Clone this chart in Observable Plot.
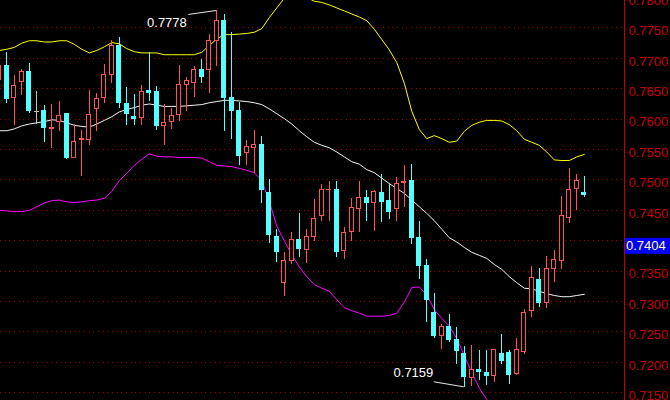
<!DOCTYPE html>
<html><head><meta charset="utf-8">
<script src="https://cdn.jsdelivr.net/npm/d3@7"></script>
<script src="https://cdn.jsdelivr.net/npm/@observablehq/plot@0.6"></script>
<style>
html,body{margin:0;padding:0;background:#000;overflow:hidden;}
#chart svg{display:block;}
</style></head><body><div id="chart"></div>
<script>
const open = [
0.7665,0.7687,0.7635,0.7661,0.7677,0.7612,0.7613,0.7584,0.7596,0.7608,
0.7536,0.7566,0.7566,0.7616,0.7635,0.7673,0.7721,0.7625,0.7604,0.7602,
0.7647,0.7644,0.7589,0.7595,0.7607,0.7657,0.7659,0.7681,0.7681,0.7728,
0.7761,0.7635,0.7613,0.7544,0.7552,0.7557,0.7478,0.7406,0.7330,0.7366,
0.7401,0.7385,0.7406,0.7440,0.7483,0.7483,0.7383,0.7414,0.7453,0.7470,
0.7462,0.7479,0.7465,0.7453,0.7495,0.7499,0.7405,0.7358,0.7282,0.7243,
0.7259,0.7236,0.7214,0.7174,0.7187,0.7182,0.7177,0.7214,0.7216,0.7181,
0.7217,0.7284,0.7335,0.7297,0.7354,0.7366,0.7437,0.7485,0.7478];
const high = [
0.7695,0.7710,0.7672,0.7681,0.7692,0.7646,0.7623,0.7624,0.7629,0.7609,
0.7591,0.7581,0.7647,0.7642,0.7690,0.7729,0.7735,0.7652,0.7640,0.7655,
0.7709,0.7653,0.7624,0.7618,0.7689,0.7669,0.7687,0.7698,0.7739,0.7778,
0.7772,0.7743,0.7628,0.7565,0.7581,0.7572,0.7500,0.7419,0.7381,0.7414,
0.7445,0.7419,0.7468,0.7493,0.7498,0.7498,0.7422,0.7469,0.7498,0.7483,
0.7483,0.7509,0.7495,0.7504,0.7524,0.7526,0.7432,0.7369,0.7313,0.7262,
0.7279,0.7257,0.7226,0.7227,0.7220,0.7220,0.7222,0.7246,0.7220,0.7240,
0.7287,0.7358,0.7355,0.7374,0.7384,0.7473,0.7519,0.7509,0.7506];
const low = [
0.7655,0.7626,0.7590,0.7639,0.7609,0.7592,0.7561,0.7552,0.7580,0.7533,
0.7535,0.7506,0.7556,0.7580,0.7625,0.7659,0.7618,0.7589,0.7590,0.7589,
0.7629,0.7581,0.7557,0.7583,0.7597,0.7613,0.7636,0.7658,0.7642,0.7687,
0.7579,0.7566,0.7524,0.7524,0.7511,0.7461,0.7396,0.7364,0.7308,0.7361,
0.7373,0.7363,0.7399,0.7432,0.7432,0.7373,0.7369,0.7399,0.7413,0.7432,
0.7416,0.7430,0.7435,0.7431,0.7455,0.7394,0.7336,0.7266,0.7240,0.7221,
0.7232,0.7197,0.7159,0.7161,0.7170,0.7162,0.7167,0.7197,0.7164,0.7178,
0.7213,0.7273,0.7290,0.7288,0.7332,0.7353,0.7429,0.7450,0.7472];
const close = [
0.7687,0.7633,0.7654,0.7678,0.7613,0.7612,0.7585,0.7586,0.7606,0.7536,
0.7562,0.7567,0.7607,0.7634,0.7672,0.7720,0.7626,0.7608,0.7600,0.7644,
0.7643,0.7588,0.7594,0.7606,0.7657,0.7662,0.7681,0.7670,0.7728,0.7762,
0.7635,0.7613,0.7540,0.7555,0.7558,0.7483,0.7409,0.7381,0.7366,0.7401,
0.7386,0.7407,0.7435,0.7483,0.7484,0.7382,0.7413,0.7454,0.7471,0.7462,
0.7481,0.7464,0.7447,0.7494,0.7497,0.7405,0.7358,0.7302,0.7243,0.7259,
0.7237,0.7218,0.7176,0.7188,0.7184,0.7177,0.7220,0.7202,0.7180,0.7220,
0.7282,0.7339,0.7297,0.7353,0.7369,0.7440,0.7484,0.7499,0.7476];
const upper = [
0.7713,0.7715,0.7718,0.7725,0.7729,0.7729,0.7727,0.7727,0.7729,0.7729,
0.7723,0.7715,0.7709,0.7713,0.7719,0.7726,0.7724,0.7716,0.7711,0.7709,
0.7709,0.7709,0.7706,0.7706,0.7706,0.7706,0.7706,0.7710,0.7721,0.7732,
0.7739,0.7739,0.7740,0.7741,0.7743,0.7749,0.7767,0.7783,0.7799,0.7807,
0.7804,0.7800,0.7794,0.7792,0.7788,0.7783,0.7778,0.7773,0.7768,0.7762,
0.7748,0.7731,0.7714,0.7693,0.7659,0.7613,0.7583,0.7568,0.7573,0.7568,
0.7562,0.7564,0.7580,0.7590,0.7595,0.7598,0.7598,0.7597,0.7591,0.7581,
0.7567,0.7562,0.7557,0.7546,0.7533,0.7532,0.7532,0.7538,0.7542];
const middle = [
0.7581,0.7581,0.7584,0.7589,0.7592,0.7594,0.7596,0.7599,0.7598,0.7594,
0.7590,0.7588,0.7587,0.7592,0.7598,0.7604,0.7612,0.7616,0.7619,0.7623,
0.7625,0.7623,0.7621,0.7621,0.7621,0.7622,0.7623,0.7624,0.7627,0.7629,
0.7631,0.7631,0.7630,0.7629,0.7627,0.7624,0.7617,0.7609,0.7601,0.7592,
0.7581,0.7571,0.7562,0.7557,0.7553,0.7546,0.7538,0.7530,0.7526,0.7517,
0.7512,0.7503,0.7494,0.7486,0.7478,0.7467,0.7456,0.7445,0.7433,0.7419,
0.7405,0.7398,0.7389,0.7381,0.7376,0.7371,0.7361,0.7353,0.7341,0.7331,
0.7322,0.7321,0.7317,0.7313,0.7310,0.7308,0.7308,0.7310,0.7312];
const lower = [
0.7450,0.7449,0.7448,0.7448,0.7450,0.7456,0.7462,0.7466,0.7467,0.7464,
0.7463,0.7464,0.7466,0.7467,0.7470,0.7481,0.7499,0.7511,0.7524,0.7534,
0.7543,0.7539,0.7538,0.7538,0.7537,0.7537,0.7537,0.7536,0.7530,0.7524,
0.7523,0.7522,0.7519,0.7516,0.7512,0.7499,0.7465,0.7424,0.7400,0.7377,
0.7357,0.7341,0.7328,0.7322,0.7317,0.7303,0.7290,0.7285,0.7281,0.7276,
0.7276,0.7276,0.7277,0.7281,0.7299,0.7323,0.7324,0.7311,0.7287,0.7272,
0.7260,0.7239,0.7211,0.7183,0.7158,0.7139,0.7124,0.7109,0.7091,0.7080,
0.7078,0.7081,0.7078,0.7080,0.7087,0.7085,0.7085,0.7082,0.7081];
const yTicks = [0.7150,0.7200,0.7250,0.7300,0.7350,0.7400,0.7450,0.7500,0.7550,0.7600,0.7650,0.7700,0.7750,0.7800];
const annotIndex = [29, 62];
const annotValue = [0.7778, 0.7159];
const annotKind = ["max", "min"];
const lastPrice = 0.7404;

const RED = "#ff5252", CYAN = "#55ffff", GRAY = "#c0c0c0";
const candles = open.map((o, i) => ({i, open: o, high: high[i], low: low[i], close: close[i],
  upper: upper[i], middle: middle[i], lower: lower[i]}));
const colorOf = d => d.close > d.open ? RED : d.close < d.open ? CYAN : GRAY;
const fmt = d3.format(".4f");
const annots = annotIndex.map((i, j) => ({i, v: annotValue[j], kind: annotKind[j], label: fmt(annotValue[j])}));

const chart = Plot.plot({
  width: 670, height: 400,
  marginLeft: 0, marginRight: 46, marginTop: 0, marginBottom: 0,
  style: {background: "#000", fontFamily: "'Liberation Sans', Arial, sans-serif", fontSize: "13px"},
  x: {domain: [0.16, 83.36], axis: null},
  y: {domain: [0.71373, 0.77952], axis: null},
  color: {type: "identity"},
  marks: [
    Plot.ruleY(yTicks, {stroke: "#a00000", strokeDasharray: "1,3.67", shapeRendering: "crispEdges"}),
    Plot.line(candles, {x: "i", y: "upper", stroke: "#ffff00", strokeWidth: 1, clip: true}),
    Plot.line(candles, {x: "i", y: "middle", stroke: "#f4f4f4", strokeWidth: 1, clip: true}),
    Plot.line(candles, {x: "i", y: "lower", stroke: "#ff00ff", strokeWidth: 1, clip: true}),
    Plot.ruleX(candles, {x: "i", y1: "low", y2: "high", stroke: colorOf, shapeRendering: "crispEdges", clip: true}),
    Plot.rect(candles, {filter: d => !(d.close > d.open), x1: d => d.i - 0.333, x2: d => d.i + 0.333,
      y1: "open", y2: "close", fill: colorOf, insetTop: -0.5, insetBottom: -0.5, shapeRendering: "crispEdges", clip: true}),
    Plot.rect(candles, {filter: d => d.close > d.open, x1: d => d.i - 0.267, x2: d => d.i + 0.267,
      y1: "open", y2: "close", fill: "#000", stroke: RED, strokeWidth: 1, shapeRendering: "crispEdges", clip: true}),
    Plot.frame({anchor: "right", stroke: "#c00000"}),
    Plot.axisY({anchor: "right", ticks: yTicks, tickSize: 0, tickPadding: 4, tickFormat: fmt,
      fill: "#c80000", color: "#c80000", fontSize: 13, dy: 3, label: null}),
    Plot.text(annots, {filter: d => d.kind === "max", x: "i", y: "v", text: "label", textAnchor: "end",
      dx: -30, dy: 12, fill: "#ffffff", fontSize: 13}),
    Plot.text(annots, {filter: d => d.kind === "min", x: "i", y: "v", text: "label", textAnchor: "end",
      dx: -31, dy: -14, fill: "#ffffff", fontSize: 13})
  ]
});
document.getElementById("chart").append(chart);

const sx = chart.scale("x"), sy = chart.scale("y");
const svg = d3.select(chart);
annots.forEach(a => {
  const px = sx.apply(a.i), py = sy.apply(a.v);
  const off = a.kind === "max" ? [-28, 4] : [-30, -5];
  svg.append("line").attr("x1", px + off[0]).attr("y1", py + off[1]).attr("x2", px).attr("y2", py)
    .attr("stroke", "#e8e8e8").attr("stroke-width", 1);
});
const right = sx.range[1];
const by = sy.apply(lastPrice);
svg.append("rect").attr("x", right + 1).attr("y", by).attr("width", 670 - right - 1).attr("height", 16).attr("fill", "#0000ff");
svg.append("text").attr("x", right + 2).attr("y", by + 8).attr("dy", "0.35em").attr("text-anchor", "start")
  .attr("fill", "#ffff99").attr("font-size", 13).attr("font-family", "'Liberation Sans', Arial, sans-serif")
  .text(fmt(lastPrice));
</script>
</body></html>
